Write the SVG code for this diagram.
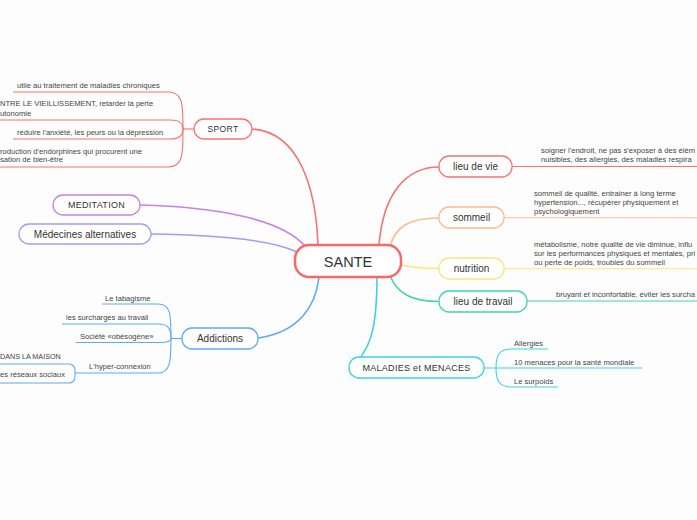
<svg xmlns="http://www.w3.org/2000/svg" width="697" height="520" viewBox="0 0 697 520">
<style>
text{font-family:"Liberation Sans",Arial,sans-serif;fill:#333}
.n{font-size:10px;text-anchor:middle}
.c{font-size:9px;letter-spacing:0.3px;text-anchor:middle}
.s{font-size:7.6px;fill:#444}
.box{fill:#fff;stroke-width:1.3}
.ln{fill:none;stroke-width:1.1}
.mn{fill:none;stroke-width:1.6}
.red{stroke:#f87272}.pur{stroke:#c880ea}.vio{stroke:#9c9ef9}.blu{stroke:#5eaaf5}
.ora{stroke:#fdbb8e}.yel{stroke:#fbe67a}.grn{stroke:#40d7a4}.cya{stroke:#3cd3df}
</style>
<rect width="697" height="520" fill="#fdfdfd"/>
<g id="connectors">
<path class="mn red" d="M252,129 C300,132 316,190 318,245"/>
<path class="mn pur" d="M140,205 C220,207 282,220 305,246"/>
<path class="mn vio" d="M151,234 C220,235 272,240 297,252"/>
<path class="mn blu" d="M258,338 C300,332 316,305 319,277"/>
<path class="mn red" d="M379,245 C383,195 405,167 439,167"/>
<path class="mn ora" d="M390,246 C396,226 410,218 439,218"/>
<path class="mn yel" d="M401,265 C415,268 425,268.5 439,268.5"/>
<path class="mn grn" d="M390,276 C398,294 412,301.5 439,301.5"/>
<path class="mn cya" d="M377,277 C377,330 370,352 350,368"/>
<path class="ln red" d="M194,129 H183"/>
<path class="ln red" d="M183,129 C183,104 183,92 168,92 H13"/>
<path class="ln red" d="M183,129 C183,124 181,120 170,120 H0"/>
<path class="ln red" d="M183,129 C183,134 181,139 170,139 H13"/>
<path class="ln red" d="M183,129 C183,155 183,167 168,167 H0"/>
<path class="ln blu" d="M182,338.5 H171"/>
<path class="ln blu" d="M171,338.5 C171,312 170,304 158,304 H102"/>
<path class="ln blu" d="M171,338.5 C171,328 168,324 158,324 H62"/>
<path class="ln blu" d="M171,338.5 C171,341 168,342.5 160,342.5 H76"/>
<path class="ln blu" d="M171,338.5 C171,362 170,373 158,373 H75"/>
<path class="ln red" d="M512,166.5 H697"/>
<path class="ln ora" d="M504,217.7 H697"/>
<path class="ln yel" d="M504,268.7 H697"/>
<path class="ln grn" d="M527,301 H697"/>
<path class="ln cya" d="M484,368 H642"/>
<path class="ln cya" d="M496,368 C496,354 500,349 512,349 H548"/>
<path class="ln cya" d="M496,368 C496,382 500,387 512,387 H558"/>
</g>
<g id="sante"><rect x="295" y="245" width="106" height="32" rx="14" fill="#fff" stroke="#f76868" stroke-width="2.5"/><text x="348" y="266.5" font-size="14.5" text-anchor="middle">SANTE</text></g>
<g id="sport"><rect class="box red" x="194" y="119" width="58" height="20" rx="10"/><text class="c" x="223" y="132.3" style="font-size:8.6px">SPORT</text></g>
<g id="sport-1"><text class="s" x="17" y="87.5">utile au traitement de maladies chroniques</text></g>
<g id="sport-2"><text class="s" x="0" y="106">NTRE LE VIEILLISSEMENT, retarder  la perte</text><text class="s" x="0" y="115.5">utonomie</text></g>
<g id="sport-3"><text class="s" x="17" y="134.5">réduire l'anxiété, les peurs ou la dépression</text></g>
<g id="sport-4"><text class="s" x="0" y="153.5">roduction d'endorphines qui procurent une</text><text class="s" x="0" y="162">sation de bien-être</text></g>
<g id="meditation"><rect class="box pur" x="53" y="195" width="87" height="20" rx="10"/><text class="c" x="96.5" y="208.3">MEDITATION</text></g>
<g id="medecines"><rect class="box vio" x="19" y="224" width="132" height="20" rx="10"/><text class="n" x="85" y="237.5">Médecines alternatives</text></g>
<g id="addictions"><rect class="box blu" x="182" y="328" width="76" height="21" rx="10"/><text class="n" x="220" y="342">Addictions</text></g>
<g id="add-1"><text class="s" x="105" y="300.5">Le tabagisme</text></g>
<g id="add-2"><text class="s" x="66" y="320">les surcharges au travail</text></g>
<g id="add-3"><text class="s" x="80" y="338.5">Société «obésogène»</text></g>
<g id="add-4"><text class="s" x="89" y="368.5">L'hyper-connexion</text></g>
<g id="add-5"><text class="s" x="0" y="359" style="font-size:7.2px">DANS LA MAISON</text></g>
<g id="add-6"><rect class="box blu" x="-10" y="364" width="85" height="19" rx="6" style="stroke-width:1.1"/><text class="s" x="0" y="376.5">es réseaux sociaux</text></g>
<g id="lieu-de-vie"><rect class="box red" x="439" y="156" width="73" height="21" rx="10"/><text class="n" x="475.5" y="170">lieu de vie</text></g>
<g id="lieu-de-vie-1"><text class="s" x="541" y="152.7">soigner l'endroit, ne pas s'exposer à des élém</text><text class="s" x="541" y="162">nuisibles,  des allergies, des maladies respira</text></g>
<g id="sommeil"><rect class="box ora" x="439" y="207" width="65" height="21" rx="10"/><text class="n" x="471.5" y="221">sommeil</text></g>
<g id="sommeil-1"><text class="s" x="534" y="196">sommeil de qualité, entrainer à long terme</text><text class="s" x="534" y="204.5">hypertension..., récupérer physiquement et</text><text class="s" x="534" y="213.5">psychologiquement</text></g>
<g id="nutrition"><rect class="box yel" x="439" y="258" width="65" height="21" rx="10"/><text class="n" x="471.5" y="272">nutrition</text></g>
<g id="nutrition-1"><text class="s" x="534" y="247">métabolisme, notre qualité de vie diminue,  influ</text><text class="s" x="534" y="256">sur les performances physiques et mentales, pri</text><text class="s" x="534" y="265">ou perte de poids, troubles du sommeil</text></g>
<g id="lieu-de-travail"><rect class="box grn" x="439" y="291" width="88" height="21" rx="10"/><text class="n" x="483" y="305">lieu de travail</text></g>
<g id="lieu-de-travail-1"><text class="s" x="556" y="297">bruyant et inconfortable, éviter les surcha</text></g>
<g id="maladies"><rect class="box cya" x="349" y="357" width="135" height="21" rx="10"/><text class="c" x="416.5" y="371">MALADIES et MENACES</text></g>
<g id="mal-1"><text class="s" x="514" y="345.5">Allergies</text></g>
<g id="mal-2"><text class="s" x="514" y="364.7">10 menaces pour la santé mondiale</text></g>
<g id="mal-3"><text class="s" x="514" y="383.5">Le surpoids</text></g>
</svg>
